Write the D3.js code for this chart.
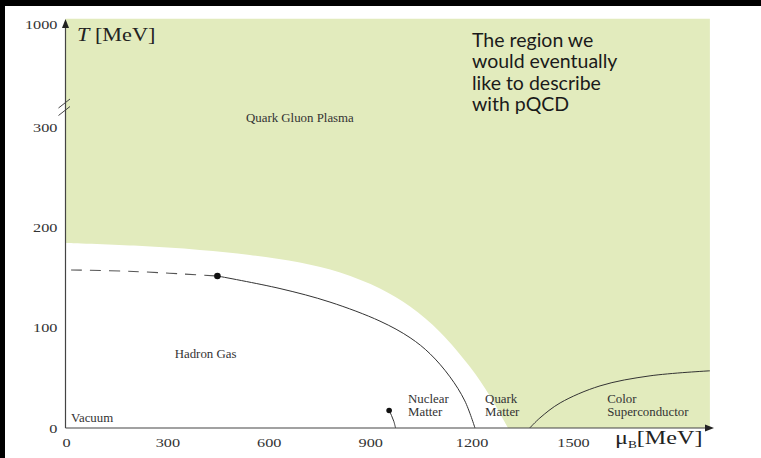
<!DOCTYPE html>
<html>
<head>
<meta charset="utf-8">
<script src="https://cdn.jsdelivr.net/npm/d3@7/dist/d3.min.js"></script>
<style>
  html, body { margin: 0; padding: 0; background: #fff; }
  svg { display: block; }
</style>
</head>
<body>
<svg id="chart" width="761" height="458"></svg>
<script>
// Tick labels on the two axes (MeV)
const muTicks = [0, 300, 600, 900, 1200, 1500];
const tTicks = [0, 100, 200, 300, 1000];

// Extent of the perturbative region (upper-right corner of the shaded area)
const muMax = 1905;
const tTop = 1035;

// Lower edge of the shaded "pQCD" region, [mu_B, T]
const shadeEdge = [
  [0, 184.5], [201, 181.8], [396, 177.5], [544, 172.5], [692, 165], [811, 155],
  [929, 139], [1018, 121], [1107, 95.5], [1195, 61], [1254, 32], [1308, 0]
];

// Crossover (dashed) and first-order (solid) transition lines
const crossover = [[15, 157.5], [200, 156], [448, 151.5]];
const firstOrder = [
  [448, 151.5], [633, 139], [781, 125.5], [929, 106.5], [1018, 90],
  [1077, 74], [1136, 51], [1180, 27], [1210, 0]
];
const criticalPoint = [448, 151.5];

// Nuclear liquid-gas transition
const nuclearLine = [[956, 17.5], [963, 12.5], [970, 6.5], [975, 0]];
const nuclearPoint = [956, 17.5];

// Boundary of the colour superconducting phase
const cscLine = [[1372, 0], [1402, 10], [1462, 25], [1580, 42], [1728, 52], [1905, 57]];

const regionText = ["Quark Gluon Plasma", "Hadron Gas", "Vacuum",
  ["Nuclear", "Matter"], ["Quark", "Matter"], ["Color", "Superconductor"]];
const noteLines = ["The region we", "would eventually", "like to describe", "with pQCD"];

const svg = d3.select("#chart");
const x = d3.scaleLinear().domain([0, 1500]).range([66, 573]);
// broken temperature axis: linear up to 300, compressed above
const y = d3.scaleLinear().domain([0, 300, 1000]).range([428, 127, 24]);

const serif = "'Liberation Serif', 'Times New Roman', serif";

// frame bands
svg.append("rect").attr("x", 0).attr("y", 0).attr("width", 761).attr("height", 6).attr("fill", "#000");
svg.append("rect").attr("x", 0).attr("y", 0).attr("width", 5).attr("height", 458).attr("fill", "#000");

const line = d3.line().x(d => x(d[0])).y(d => y(d[1])).curve(d3.curveCatmullRom.alpha(0.5));
const x0 = x(0) - 0.5;

// shaded region: curved lower edge, then straight out to the corners
svg.append("path")
  .attr("d", line(shadeEdge) +
    `L${x(muMax)},${y(0)}L${x(muMax)},${y(tTop)}L${x0},${y(tTop)}Z`)
  .attr("fill", "#e2ebbd");

svg.append("path").datum(crossover)
  .attr("d", line).attr("fill", "none")
  .attr("stroke", "#555").attr("stroke-width", 1.1)
  .attr("stroke-dasharray", "11,8");

svg.append("path").datum(firstOrder)
  .attr("d", line).attr("fill", "none")
  .attr("stroke", "#333").attr("stroke-width", 1);

svg.append("path").datum(nuclearLine)
  .attr("d", line).attr("fill", "none")
  .attr("stroke", "#333").attr("stroke-width", 1);

svg.append("path").datum(cscLine)
  .attr("d", line).attr("fill", "none")
  .attr("stroke", "#333").attr("stroke-width", 1);

svg.append("circle").attr("cx", x(criticalPoint[0])).attr("cy", y(criticalPoint[1]))
  .attr("r", 3.3).attr("fill", "#111");
svg.append("circle").attr("cx", x(nuclearPoint[0])).attr("cy", y(nuclearPoint[1]))
  .attr("r", 2.8).attr("fill", "#111");

// axes
const axisColor = "#444";
svg.append("line").attr("x1", x0).attr("x2", x0).attr("y1", y(0)).attr("y2", 26)
  .attr("stroke", axisColor).attr("stroke-width", 1.2);
svg.append("path")
  .attr("d", `M${x0},19 L${x0 - 3.5},28 L${x0 + 3.5},28 Z`).attr("fill", "#222");
svg.append("line").attr("x1", x0).attr("x2", 706).attr("y1", y(0)).attr("y2", y(0))
  .attr("stroke", axisColor).attr("stroke-width", 1.2);
svg.append("path")
  .attr("d", `M714,${y(0)} L705,${y(0) - 3.5} L705,${y(0) + 3.5} Z`).attr("fill", "#222");

// axis break marks
[0, 7.5].forEach(dy => {
  svg.append("line")
    .attr("x1", 58.5).attr("y1", 108 + dy).attr("x2", 70).attr("y2", 99 + dy)
    .attr("stroke", "#444").attr("stroke-width", 1);
});

const xAxis = svg.append("g")
  .attr("transform", `translate(0,${y(0)})`)
  .call(d3.axisBottom(x).tickValues(muTicks).tickSize(0).tickPadding(7).tickFormat(d3.format("d")));
const yAxis = svg.append("g")
  .attr("transform", `translate(${x0},0)`)
  .call(d3.axisLeft(y).tickValues(tTicks).tickSize(0).tickPadding(6.5).tickFormat(d3.format("d")));
[xAxis, yAxis].forEach(g => {
  g.select(".domain").remove();
  g.selectAll("text")
    .attr("font-family", serif).attr("font-size", 13).attr("fill", "#333")
    .attr("transform", "scale(1.25,1)");
});
xAxis.selectAll("text").attr("dy", "0.95em");

// axis titles
const tTitle = svg.append("text")
  .attr("transform", "translate(77,41) scale(1.17,1)")
  .attr("font-family", serif).attr("font-size", 19).attr("fill", "#222");
tTitle.append("tspan").attr("font-style", "italic").text("T");
tTitle.append("tspan").text(" [MeV]");

const muTitle = svg.append("text")
  .attr("transform", "translate(615,444) scale(1.27,1)")
  .attr("font-family", serif).attr("font-size", 19).attr("fill", "#222");
muTitle.append("tspan").text("μ");
muTitle.append("tspan").attr("font-size", 10.5).attr("dy", 4).text("B");
muTitle.append("tspan").attr("dy", -4).text("[MeV]");

// region labels
function label(lines, px, py, anchor) {
  const t = svg.append("text")
    .attr("transform", `translate(${px},${py}) scale(1.12,1)`)
    .attr("font-family", serif).attr("font-size", 11.5).attr("fill", "#333")
    .attr("text-anchor", anchor || "start");
  (Array.isArray(lines) ? lines : [lines]).forEach((s, i) => {
    t.append("tspan").attr("x", 0).attr("dy", i === 0 ? 0 : 13.5).text(s);
  });
}
label(regionText[0], x(692), y(334), "middle");
label(regionText[1], x(413), y(70), "middle");
label(regionText[2], x(15), y(6));
label(regionText[3], x(1012), y(25));
label(regionText[4], x(1240), y(25));
label(regionText[5], x(1601), y(25));

// note in the shaded region
const note = svg.append("text")
  .attr("font-family", "Lato, 'Open Sans', sans-serif").attr("font-size", 19.5)
  .attr("fill", "#1a1a1a");
noteLines.forEach((s, i) => {
  note.append("tspan").attr("x", 472).attr("y", 47 + i * 21.3).text(s);
});
</script>
</body>
</html>
